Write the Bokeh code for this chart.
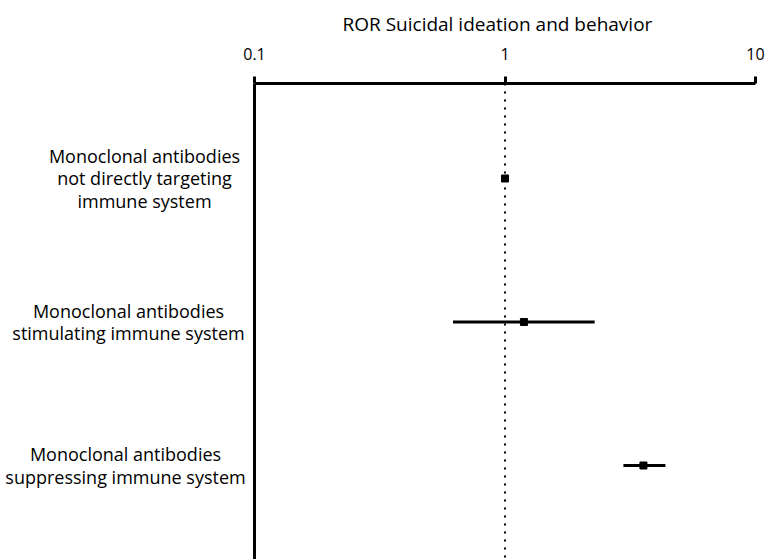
from bokeh.plotting import figure
from bokeh.models import FixedTicker, Span, Range1d, ColumnDataSource
from bokeh.core.properties import value
from bokeh.embed import file_html
from bokeh.resources import INLINE

categories = ["Monoclonal antibodies\nnot directly targeting\nimmune system",
              "Monoclonal antibodies\nstimulating immune system",
              "Monoclonal antibodies\nsuppressing immune system"]
ror = [1.0, 1.19, 3.57]
ci_low = [0.99, 0.62, 2.97]
ci_high = [1.01, 2.28, 4.37]
rows = [3, 2, 1]
tick_values = [0.1, 1, 10]
tick_labels = ["0.1", "1", "10"]
axis_title = "ROR Suicidal ideation and behavior"

FONT = "Open Sans"
W, H = 766, 559
LEFT_PAD, RIGHT_PAD = 254, 11          # screen space left/right of the 0.1..10 axis
PX_PER_DECADE = (W - LEFT_PAD - RIGHT_PAD) / 2.0
x_lo = 0.1 * 10 ** (-LEFT_PAD / PX_PER_DECADE)
x_hi = 10 * 10 ** (RIGHT_PAD / PX_PER_DECADE)

p = figure(width=W, height=H, x_axis_type="log", x_axis_location="above",
           y_axis_location=None,
           x_range=Range1d(x_lo, x_hi), y_range=Range1d(0.345, 3.662),
           output_backend="svg", toolbar_location=None,
           min_border_left=0, min_border_right=0, min_border_top=83, min_border_bottom=0)
p.outline_line_color = None
p.xgrid.visible = False
p.ygrid.visible = False

# title centred over the 0.1..10 axis span
p.title.text = axis_title
p.title.align = "left"
p.title.offset = 342
p.title.text_font = FONT
p.title.text_font_style = "normal"
p.title.text_font_size = "19px"
p.title.text_color = "black"
p.title.standoff = 16

xa = p.xaxis[0]
xa.bounds = (0.1, 10)
xa.ticker = FixedTicker(ticks=tick_values, minor_ticks=[])
xa.major_label_overrides = {v: l for v, l in zip(tick_values, tick_labels)}
xa.major_label_text_font = FONT
xa.major_label_text_font_size = "16px"
xa.major_label_text_color = "black"
xa.major_label_standoff = 17
xa.major_tick_out = 7
xa.major_tick_in = 0
xa.major_tick_line_width = 3
xa.major_tick_line_color = "black"
xa.minor_tick_out = 0
xa.minor_tick_in = 0
xa.axis_line_width = 3
xa.axis_line_color = "black"

# left vertical axis line at x = 0.1
p.add_layout(Span(location=0.1, dimension="height", line_color="black", line_width=3))
# reference line at ROR = 1
p.add_layout(Span(location=1, dimension="height", line_color="black",
                  line_width=2, line_dash="2 6"))

src = ColumnDataSource(dict(y=rows, ror=ror, lo=ci_low, hi=ci_high))
p.segment(x0="lo", x1="hi", y0="y", y1="y", source=src, line_color="black", line_width=3)
p.scatter(x="ror", y="y", source=src, marker="square", size=7,
          fill_color="black", line_color="black")

lab = ColumnDataSource(dict(x=[0.1] * 3, y=rows, text=categories, off=[-110, -126, -129]))
p.text(x="x", y="y", text="text", x_offset="off", source=lab,
       text_align="center", text_baseline="middle", text_font=value(FONT),
       text_font_size="18px", text_color="black", text_line_height=0.95)

open("out.html", "w").write(file_html(p, INLINE))
